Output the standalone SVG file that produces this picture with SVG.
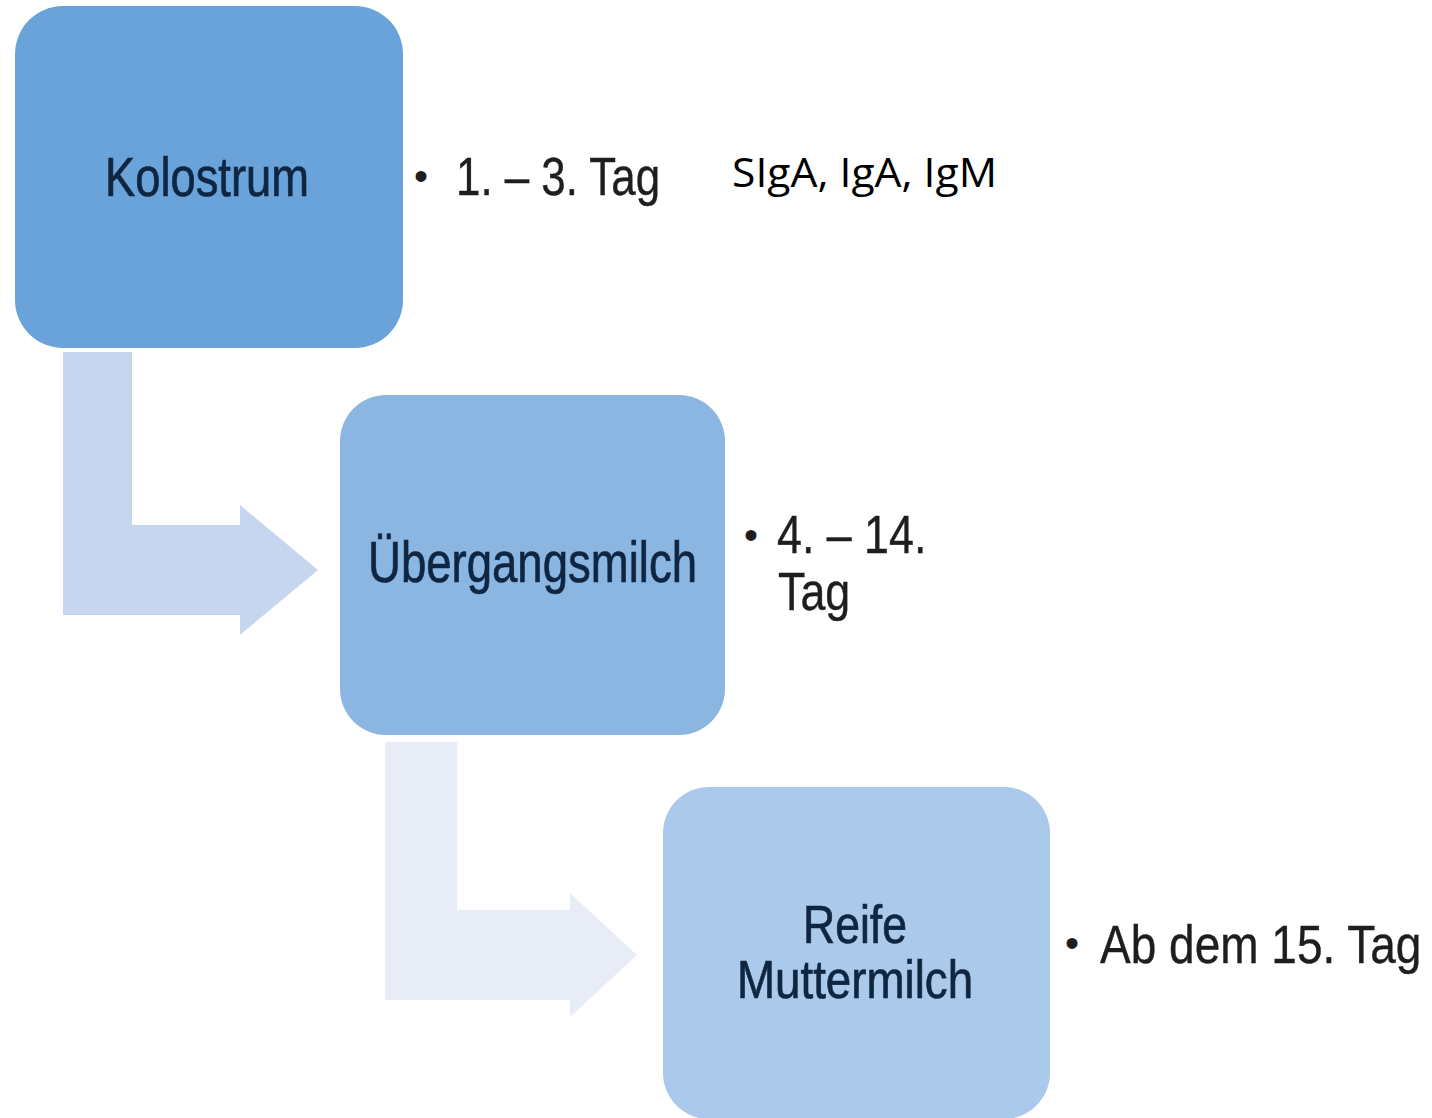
<svg xmlns="http://www.w3.org/2000/svg" width="1432" height="1118" viewBox="0 0 1432 1118">
<style>
.node-text{font-family:"Liberation Sans",Arial,sans-serif;fill:#0f2642;stroke:#0f2642;stroke-width:0.7;}
.side{font-family:"Liberation Sans",Arial,sans-serif;fill:#1e1e1e;stroke:#1e1e1e;stroke-width:0.4;}
.bullet{font-family:"Liberation Sans",Arial,sans-serif;fill:#1e1e1e;font-size:40px;}
.cal{font-family:"Open Sans","Noto Sans",sans-serif;fill:#000;}
</style>
<rect width="1432" height="1118" fill="#ffffff"/>
<g id="connectors">
<path id="arrow1" d="M63,352 H132 V525 H240 V505 L318,570 L240,635 V615 H63 Z" fill="#c6d6ee"/>
<path id="arrow2" d="M385,742 H457 V910 H570 V893 L637,955 L570,1017 V1000 H385 Z" fill="#e7ecf6"/>
</g>
<g id="node-kolostrum">
<rect x="15" y="6" width="388" height="342" rx="48" fill="#6aa3d9"/>
<text class="node-text" transform="translate(105,196) scale(0.824,1)" font-size="55">Kolostrum</text>
</g>
<g id="node-uebergangsmilch">
<rect x="340" y="395" width="385" height="340" rx="46" fill="#8bb6e1"/>
<text class="node-text" transform="translate(368,582) scale(0.799,1)" font-size="57">Übergangsmilch</text>
</g>
<g id="node-reife">
<rect x="663" y="787" width="387" height="332" rx="46" fill="#abc9ea"/>
<text class="node-text" transform="translate(803,943) scale(0.84,1)" font-size="53">Reife</text>
<text class="node-text" transform="translate(737,998) scale(0.862,1)" font-size="53">Muttermilch</text>
</g>
<g id="label-kolostrum">
<text class="bullet" x="414" y="190">•</text>
<text class="side" transform="translate(456,195) scale(0.828,1)" font-size="53">1. – 3. Tag</text>
<text class="cal" x="732" y="187" font-size="41" textLength="265" lengthAdjust="spacingAndGlyphs">SIgA, IgA, IgM</text>
</g>
<g id="label-uebergang">
<text class="bullet" x="744" y="549">•</text>
<text class="side" transform="translate(777,553) scale(0.845,1)" font-size="53">4. – 14.</text>
<text class="side" transform="translate(778,610) scale(0.845,1)" font-size="53">Tag</text>
</g>
<g id="label-reife">
<text class="bullet" x="1065" y="957">•</text>
<text class="side" transform="translate(1100,963) scale(0.852,1)" font-size="54">Ab dem 15. Tag</text>
</g>
</svg>
